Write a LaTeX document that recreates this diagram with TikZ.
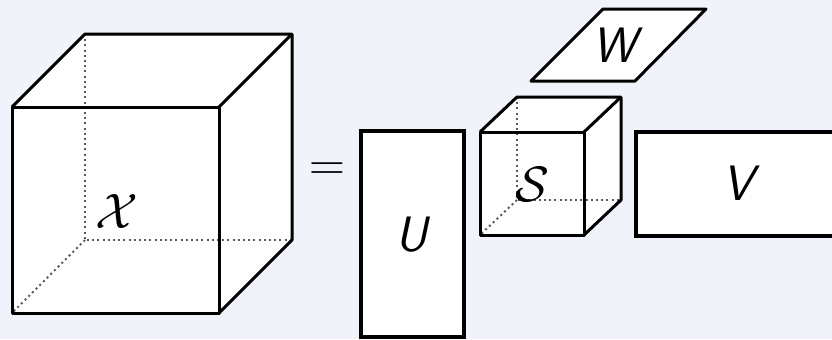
\documentclass[tikz,border=0pt]{standalone}

\definecolor{pagebg}{RGB}{240,243,250}
\newcommand{\sfit}[1]{\textsf{\itshape #1}}
% cube: left, top, width, height, back offset x, back offset y
\newcommand{\tcube}[6]{%
  \fill[white] (#1,#2) -- ++(#5,-#6) -- ++(#3,0) -- ++(0,#4) -- ++(-#5,#6) -- ++(-#3,0) -- cycle;
  \draw[hiddenedge] (#1,#2) ++(#5,-#6) -- ++(0,#4) -- ++(#3,0);
  \draw[hiddenedge] (#1,#2) ++(#5,-#6) ++(0,#4) -- ++(-#5,#6);
  \draw[solidedge] (#1,#2) rectangle ++(#3,#4);
  \draw[solidedge] (#1,#2) -- ++(#5,-#6) -- ++(#3,0) -- ++(0,#4) -- ++(-#5,#6);
  \draw[solidedge] (#1,#2) ++(#3,0) -- ++(#5,-#6);
}

\tikzset{
  solidedge/.style={line width=1.5pt, line join=round},
  hiddenedge/.style={black!65, line width=1pt, dash pattern=on 1pt off 1.6pt},
  matbox/.style={draw, fill=white, line width=2pt},
  lbl/.style={font=\Huge, inner sep=0pt},
}

\begin{document}
\begin{tikzpicture}[x=0.5pt, y=-0.5pt]
  \clip (0,0) rectangle (832,339);
  \fill[pagebg] (0,0) rectangle (832,339);

  % tensor X
  \tcube{12}{107}{207}{206}{73}{73}
  \node[lbl] (xlab) at (117,211) {$\mathcal{X}$};

  \node[lbl] (eq) at (327,172) {$=$};

  % factor U
  \draw[matbox] (361,131) rectangle (464,337);
  \node[lbl] (ulab) at (413,235) {\sfit{U}};

  % core S
  \tcube{480}{132}{104}{103}{37}{35}
  \node[lbl] (slab) at (532,184) {$\mathcal{S}$};

  % factor W
  \draw[solidedge, fill=white] (531,81) -- (603,9) -- (706,9) -- (635,81) -- cycle;
  \node[lbl] (wlab) at (618,45) {\sfit{W}};

  % factor V
  \draw[matbox] (636,132) rectangle (850,236);
  \node[lbl] (vlab) at (741,183) {\sfit{V}};
\end{tikzpicture}
\end{document}
